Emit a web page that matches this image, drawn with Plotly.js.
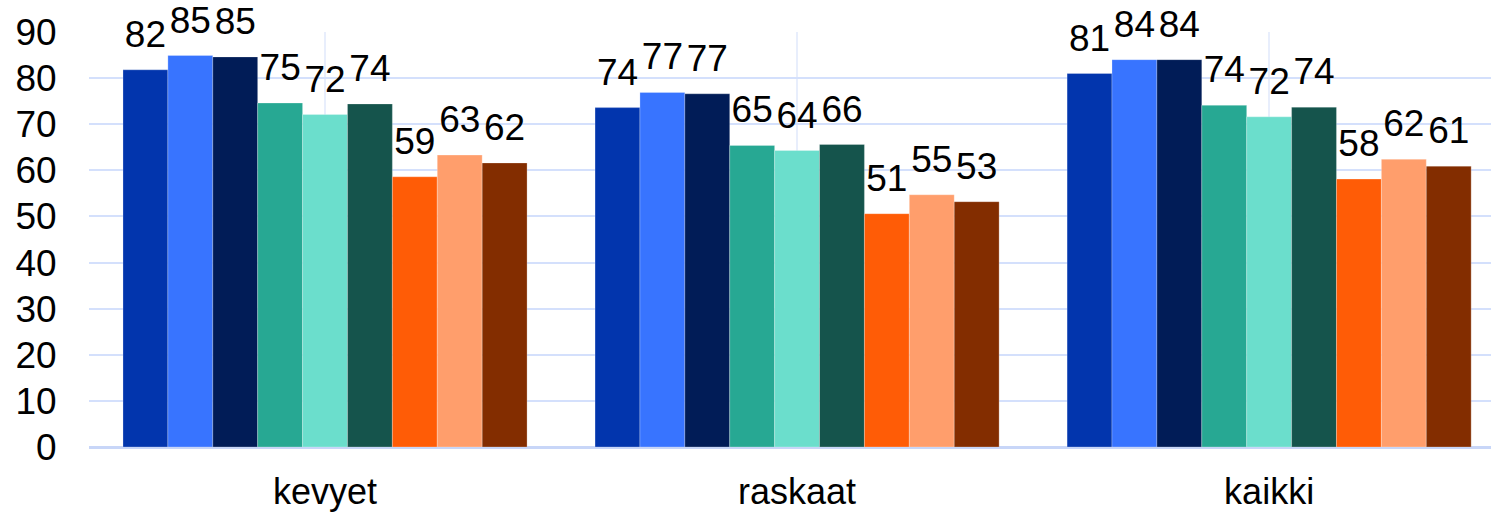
<!DOCTYPE html>
<html>
<head>
<meta charset="utf-8">
<script src="https://cdn.plot.ly/plotly-3.0.1.min.js"></script>
<style>html,body{margin:0;padding:0;background:#fff;}#chart{width:1491px;height:512px;}</style>
</head>
<body>
<div id="chart"></div>
<script>
var categories = ["kevyet", "raskaat", "kaikki"];
var s1 = [81.8, 73.6, 81.0];
var s2 = [84.9, 76.9, 84.0];
var s3 = [84.6, 76.6, 84.0];
var s4 = [74.6, 65.4, 74.1];
var s5 = [72.1, 64.3, 71.6];
var s6 = [74.4, 65.6, 73.7];
var s7 = [58.6, 50.6, 58.1];
var s8 = [63.3, 54.7, 62.4];
var s9 = [61.6, 53.2, 60.9];
var seriesValues = [s1, s2, s3, s4, s5, s6, s7, s8, s9];
var colors = ["#0235AD", "#3874FF", "#011C57", "#27A893", "#6BDECC", "#15544C", "#FF5C06", "#FF9E6C", "#832D00"];

var font = "Liberation Sans, Arial, sans-serif";
var labelSize = 37;

// visible bars
var traces = seriesValues.map(function (vals, i) {
  return {
    type: "bar",
    x: categories,
    y: vals,
    xaxis: "x",
    yaxis: "y",
    name: "s" + (i + 1),
    marker: { color: colors[i], line: { color: "rgba(255,255,255,0.25)", width: 1 } },
    hoverinfo: "x+y"
  };
});
// value labels: same values on an overlaid, slightly shifted value axis so labels sit a little higher
seriesValues.forEach(function (vals, i) {
  traces.push({
    type: "bar",
    x: categories,
    y: vals,
    xaxis: "x",
    yaxis: "y2",
    name: "lbl" + (i + 1),
    marker: { color: "rgba(0,0,0,0)" },
    texttemplate: "%{y:.0f}",
    textposition: "outside",
    constraintext: "none",
    cliponaxis: false,
    textfont: { family: font, size: labelSize, color: "#000" },
    hoverinfo: "skip"
  });
});

var layout = {
  width: 1491,
  height: 512,
  margin: { l: 89, r: 0, t: 32, b: 65, pad: 0 },
  paper_bgcolor: "#fff",
  plot_bgcolor: "#fff",
  showlegend: false,
  barmode: "group",
  bargap: 0.144,
  bargroupgap: 0,
  font: { family: font, size: labelSize, color: "#000" },
  xaxis: {
    type: "category",
    range: [-0.5, 2.47],
    showgrid: true,
    gridcolor: "#E8EEFC",
    gridwidth: 2,
    zeroline: false,
    showline: false,
    ticks: "outside",
    ticklen: 13,
    tickcolor: "rgba(0,0,0,0)",
    tickfont: { family: font, size: 36, color: "#000" }
  },
  xaxis2: {
    overlaying: "x",
    type: "linear",
    range: [-0.5, 2.47],
    tick0: -0.5,
    dtick: 1,
    showgrid: true,
    gridcolor: "#E8EEFC",
    gridwidth: 2,
    showticklabels: false,
    zeroline: false,
    showline: false,
    ticks: ""
  },
  yaxis: {
    range: [0, 90],
    dtick: 10,
    showgrid: true,
    gridcolor: "#D4E0FC",
    gridwidth: 2,
    zeroline: true,
    zerolinecolor: "#C8D6F8",
    zerolinewidth: 3,
    showline: false,
    ticks: "outside",
    ticklen: 24,
    tickcolor: "rgba(0,0,0,0)",
    tickfont: { family: font, size: labelSize, color: "#000" }
  },
  yaxis2: {
    overlaying: "y",
    range: [-2.6, 87.4],
    visible: false,
    showgrid: false,
    zeroline: false
  }
};

Plotly.newPlot("chart", traces, layout, { displayModeBar: false, staticPlot: true });
</script>
</body>
</html>
